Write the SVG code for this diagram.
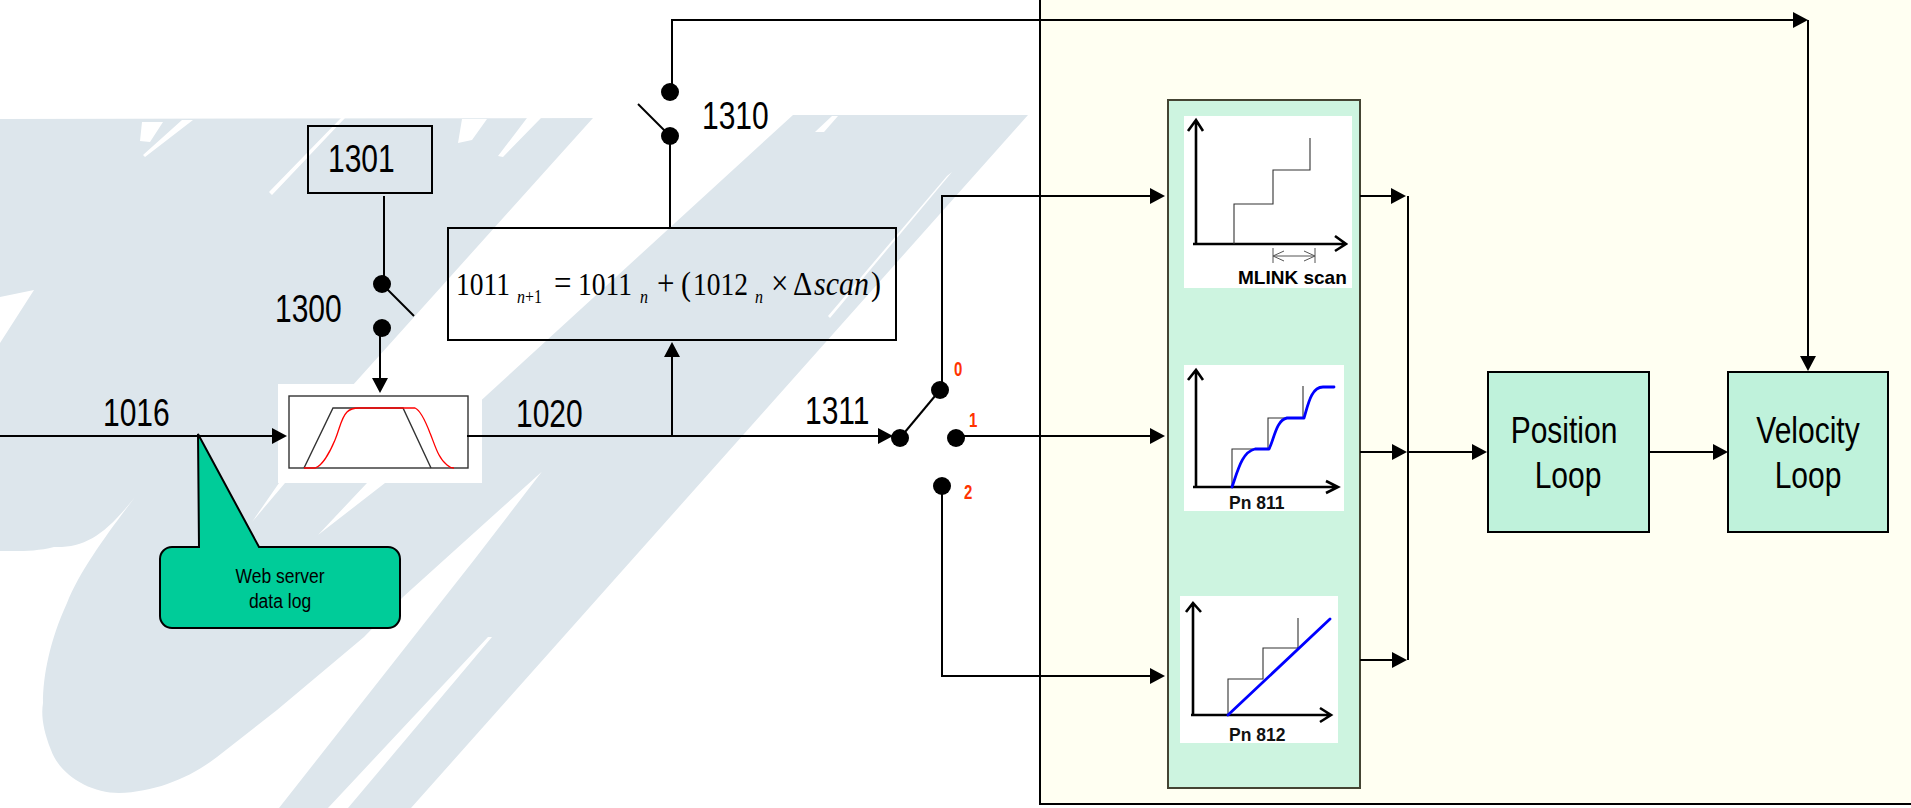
<svg xmlns="http://www.w3.org/2000/svg" width="1911" height="808" viewBox="0 0 1911 808">
<style>
text{font-family:"Liberation Sans",Arial,sans-serif;fill:#000}
.lab{font-size:30px}
.rd{font-size:15px;font-weight:bold;fill:#ff3300}
.cap{font-weight:bold;font-size:17.5px;fill:#111}
.cb{font-size:17.5px}
.f{font-family:"Liberation Serif","Times New Roman",serif;font-size:27.5px}
.fi{font-style:italic}
.c{fill:none;stroke:#000;stroke-width:2}
.ar{fill:none;stroke:#000;stroke-width:2;marker-end:url(#ah)}
.axis{fill:none;stroke:#000;stroke-width:2.6}
.step{fill:none;stroke:#333;stroke-width:1.1}
.blue{fill:none;stroke:#0000ff;stroke-width:2.8;stroke-linecap:round;stroke-linejoin:round}
.box{stroke:#000;stroke-width:2;fill:none}
.loop{stroke:#000;stroke-width:2;fill:#bff2db}
.wm{fill:#dde6ec}
.sl{fill:#fff}
</style>
<defs>
<marker id="ah" markerUnits="userSpaceOnUse" markerWidth="16" markerHeight="16" refX="13" refY="8" orient="auto"><path d="M0 0L15 8L0 16z" fill="#000"/></marker>
</defs>
<rect width="1911" height="808" fill="#fff"/>
<g id="watermark">
<path class="wm" d="M0 119L593 118L290 455L405 470L793 115L1028 115L411 808L279 808L474 560L547 465L557 458L403 597L364 637L277 710L217 757C190 778 155 792 119 793C90 793 60 775 51 750C43 730 41 715 43 703C43 675 50 640 67 603C80 570 110 530 135 497C105 535 85 548 54 547C35 552 15 551 0 551L0 343L34 290L0 297z"/>
<path class="sl" d="M142 122L163 122L150 142L140 141zM182 120L193 120L145 157L143 155zM341 118L345 118L272 195L269 192zM462 119L487 119L472 140L458 143zM527 118L541 118L503 157L498 156zM832 116L838 116L824 132L815 132zM947 176L952 172L830 318L828 316zM279 483L285 483L252 522zM367 483L385 483L318 535zM488 637L492 637L348 808L328 808z"/>
</g>
<rect id="panel" x="1040" y="-3" width="880" height="807" fill="#fffff2" stroke="#000" stroke-width="2"/>
<g id="shaper-panel">
<rect x="1168" y="100" width="192" height="688" fill="#cdf4e0" stroke="#444433" stroke-width="2"/>
<g id="mlink-scan">
<rect x="1184" y="116" width="168" height="172" fill="#fff"/>
<path class="axis" d="M1196 120V244M1193 244H1346M1188 131L1196 120L1203 131M1335 236L1346 244L1335 251"/>
<path class="step" d="M1234 244V204H1273V170H1310V138"/>
<path d="M1273 248V263M1315 248V263M1273 256H1315M1284 251L1273 256L1284 261M1304 251L1315 256L1304 261" fill="none" stroke="#555" stroke-width="1"/>
<text x="1238" y="284" font-size="19" font-weight="bold" fill="#111">MLINK scan</text>
</g>
<g id="pn811">
<rect x="1184" y="365" width="160" height="146" fill="#fff"/>
<path class="axis" d="M1196 370V487M1193 487H1338M1188 380L1196 370L1203 380M1326 481L1338 487L1326 493"/>
<path class="step" d="M1232 487V449H1268V418H1303V386"/>
<path class="blue" d="M1232 487C1238 470 1242 452 1255 449H1269C1274 440 1276 420 1287 418H1304C1308 405 1311 387 1323 387H1334"/>
<text class="cap" x="1229" y="509">Pn 811</text>
</g>
<g id="pn812">
<rect x="1180" y="596" width="158" height="147" fill="#fff"/>
<path class="axis" d="M1193 603V715M1191 715H1331M1186 612L1193 603L1201 612M1320 708L1331 715L1320 722"/>
<path class="step" d="M1228 715V679H1263V648H1298V618"/>
<path class="blue" d="M1228 715L1330 619"/>
<text class="cap" x="1229" y="741">Pn 812</text>
</g>
</g>
<g id="ramp">
<rect x="278" y="384" width="204" height="99" fill="#fff"/>
<rect x="289" y="396" width="179" height="72" fill="#fff" stroke="#333" stroke-width="1.4"/>
<path d="M304 468L333 408H403L431 468" fill="none" stroke="#333" stroke-width="1.4"/>
<path d="M304 468H315C322 466 330 452 335 440C340 428 341 418 347 412C350 409 353 408 359 408H415C420 410 425 420 430 433C435 445 438 458 447 465C449 467 451 468 454 468" fill="none" stroke="#ff0000" stroke-width="1.3"/>
</g>
<g id="connectors">
<path class="ar" d="M0 436H285"/>
<path class="c" d="M467 436H891"/>
<path class="ar" d="M672 436V344"/>
<path class="ar" d="M878 436H891"/>
<path class="c" d="M384 196V277"/>
<path class="ar" d="M380 328V391"/>
<path class="c" d="M670 228V136"/>
<path class="ar" d="M672 85V20H1806"/>
<path class="ar" d="M1808 20V369"/>
<path class="ar" d="M942 390V196H1163"/>
<path class="ar" d="M956 436H1163"/>
<path class="ar" d="M942 486V676H1163"/>
<path class="ar" d="M1360 196H1404"/>
<path class="ar" d="M1360 452H1405"/>
<path class="ar" d="M1360 660H1405"/>
<path class="c" d="M1408 196V660"/>
<path class="ar" d="M1408 452H1485"/>
<path class="ar" d="M1649 452H1726"/>
</g>
<g id="box-1301">
<rect class="box" x="308" y="126" width="124" height="67"/>
<text class="lab" transform="translate(328 172) scale(1 1.28)">1301</text>
</g>
<g id="switch-1300">
<circle cx="382" cy="284" r="9"/>
<circle cx="382" cy="328" r="9"/>
<path class="c" d="M382 284L414 316"/>
<text class="lab" transform="translate(275 322) scale(1 1.28)">1300</text>
</g>
<g id="switch-1310">
<circle cx="670" cy="92" r="9"/>
<circle cx="670" cy="136" r="9"/>
<path class="c" d="M638 104L670 136"/>
<text class="lab" transform="translate(702 129) scale(1 1.28)">1310</text>
</g>
<g id="formula">
<rect class="box" x="448" y="228" width="448" height="112"/>
<text class="f" transform="translate(0 295) scale(1 1.15)"><tspan x="456">1011</tspan><tspan class="fi" x="517" y="7" font-size="16">n</tspan><tspan x="525" y="7" font-size="16">+1</tspan><tspan x="554" y="0" font-size="31">=</tspan><tspan x="578">1011</tspan><tspan class="fi" x="640" y="7" font-size="16">n</tspan><tspan x="657" y="0" font-size="31">+</tspan><tspan x="681" font-size="30">(</tspan><tspan x="693">1012</tspan><tspan class="fi" x="755" y="7" font-size="16">n</tspan><tspan x="771" y="0" font-size="31">×</tspan><tspan x="793" font-size="30">Δ</tspan><tspan class="fi" x="814" font-size="30">scan</tspan><tspan x="871" font-size="30">)</tspan></text>
</g>
<g id="selector-1311">
<circle cx="900" cy="438" r="9"/>
<circle cx="940" cy="390" r="9"/>
<circle cx="956" cy="438" r="9"/>
<circle cx="942" cy="486" r="9"/>
<path class="c" d="M900 438L940 390"/>
<text class="rd" transform="translate(954 376) scale(1 1.35)">0</text>
<text class="rd" transform="translate(969 427) scale(1 1.35)">1</text>
<text class="rd" transform="translate(964 499) scale(1 1.35)">2</text>
</g>
<text id="label-1016" class="lab" transform="translate(103 426) scale(1 1.28)">1016</text>
<text id="label-1020" class="lab" transform="translate(516 427) scale(1 1.28)">1020</text>
<text id="label-1311" class="lab" transform="translate(805 424) scale(1 1.28)">1311</text>
<g id="callout">
<path d="M198 434L259 547H388A12 12 0 0 1 400 559V616A12 12 0 0 1 388 628H172A12 12 0 0 1 160 616V559A12 12 0 0 1 172 547H199z" fill="#00cc99" stroke="#000" stroke-width="2"/>
<text class="cb" transform="translate(280 583) scale(1 1.2)" text-anchor="middle">Web server</text>
<text class="cb" transform="translate(280 608) scale(1 1.2)" text-anchor="middle">data log</text>
</g>
<g id="position-loop">
<rect class="loop" x="1488" y="372" width="161" height="160"/>
<text class="lab" transform="translate(1564 443) scale(1 1.2)" text-anchor="middle">Position</text>
<text class="lab" transform="translate(1568 488) scale(1 1.2)" text-anchor="middle">Loop</text>
</g>
<g id="velocity-loop">
<rect class="loop" x="1728" y="372" width="160" height="160"/>
<text class="lab" transform="translate(1808 443) scale(1 1.2)" text-anchor="middle">Velocity</text>
<text class="lab" transform="translate(1808 488) scale(1 1.2)" text-anchor="middle">Loop</text>
</g>
</svg>
